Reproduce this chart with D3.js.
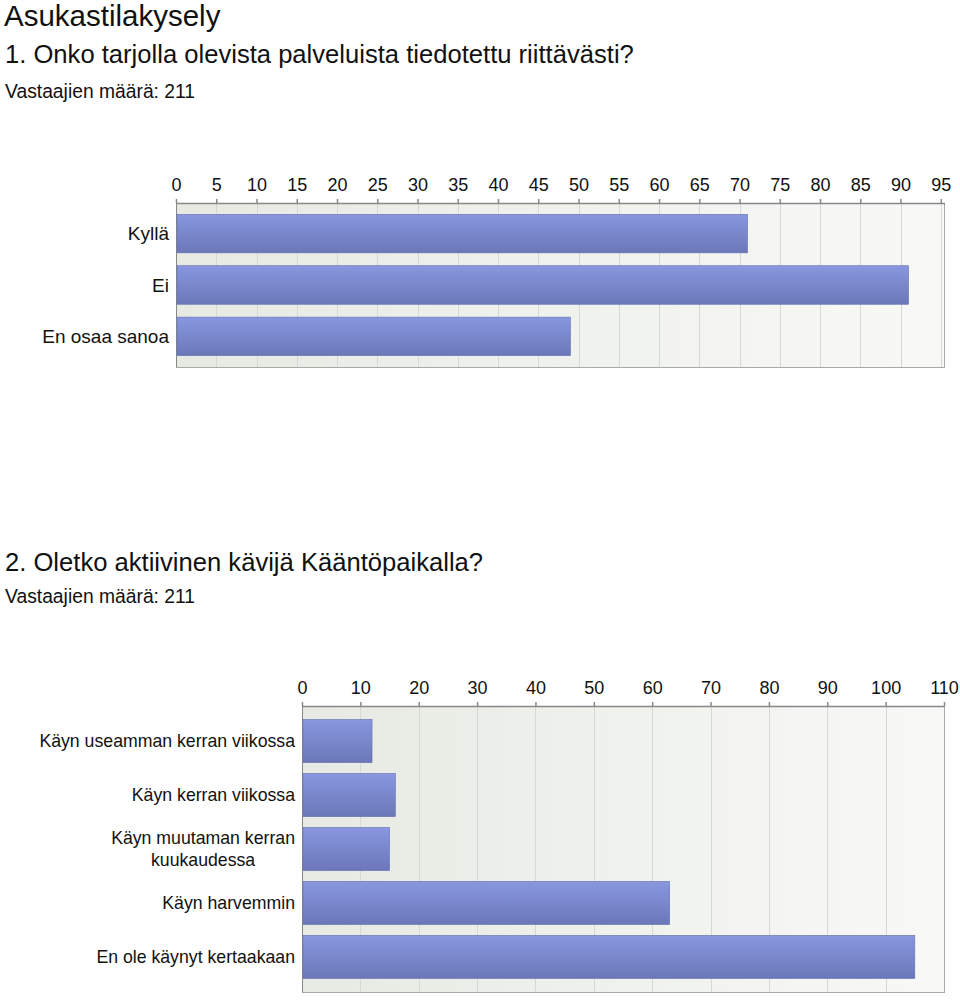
<!DOCTYPE html>
<html><head><meta charset="utf-8">
<script src="https://cdn.jsdelivr.net/npm/d3@7"></script>
<style>
body{margin:0;background:#fff;font-family:"Liberation Sans",Arial,sans-serif;}
svg text{font-family:"Liberation Sans",Arial,sans-serif;fill:#111;}
</style></head>
<body><svg id="c" width="960" height="1001"></svg>
<script>
const title = "Asukastilakysely";
const q1Title = "1. Onko tarjolla olevista palveluista tiedotettu riittävästi?";
const q1Count = "Vastaajien määrä: 211";
const q1Categories = ["Kyllä", "Ei", "En osaa sanoa"];
const q1Values = [71, 91, 49];
const q1Ticks = [0,5,10,15,20,25,30,35,40,45,50,55,60,65,70,75,80,85,90,95];

const q2Title = "2. Oletko aktiivinen kävijä Kääntöpaikalla?";
const q2Count = "Vastaajien määrä: 211";
const q2Categories = ["Käyn useamman kerran viikossa", "Käyn kerran viikossa", "Käyn muutaman kerran|kuukaudessa", "Käyn harvemmin", "En ole käynyt kertaakaan"];
const q2Values = [12, 16, 15, 63, 105];
const q2Ticks = [0,10,20,30,40,50,60,70,80,90,100,110];

const svg = d3.select("#c");
const defs = svg.append("defs");
const bg = defs.append("linearGradient").attr("id","bg").attr("x1",0).attr("x2",1).attr("y1",0).attr("y2",0);
bg.append("stop").attr("offset",0).attr("stop-color","#e7eae3");
bg.append("stop").attr("offset",1).attr("stop-color","#f8f9f7");
const bar = defs.append("linearGradient").attr("id","bar").attr("x1",0).attr("x2",0).attr("y1",0).attr("y2",1);
bar.append("stop").attr("offset",0).attr("stop-color","#8897df");
bar.append("stop").attr("offset",1).attr("stop-color","#6b77b8");

svg.append("text").attr("x",4).attr("y",26).attr("font-size",29.5).text(title);
svg.append("text").attr("x",5).attr("y",63).attr("font-size",25.6).text(q1Title);
svg.append("text").attr("x",5).attr("y",98).attr("font-size",19.3).text(q1Count);
svg.append("text").attr("x",5).attr("y",571).attr("font-size",25.6).text(q2Title);
svg.append("text").attr("x",5).attr("y",603).attr("font-size",19.3).text(q2Count);

function chart(cfg){
  const x = d3.scaleLinear().domain([0,cfg.max]).range([cfg.x0,cfg.x1]);
  const y = d3.scaleBand().domain(cfg.cats).range([cfg.y0,cfg.y1]).paddingInner(cfg.pi).paddingOuter(cfg.po);
  const g = svg.append("g");
  g.append("rect").attr("x",cfg.x0).attr("y",cfg.y0).attr("width",cfg.x1-cfg.x0).attr("height",cfg.y1-cfg.y0).attr("fill","url(#bg)");
  g.selectAll("line.grid").data(cfg.ticks.filter(t=>t>0)).join("line")
    .attr("x1",d=>Math.round(x(d))+0.5).attr("x2",d=>Math.round(x(d))+0.5)
    .attr("y1",cfg.y0).attr("y2",cfg.y1).attr("stroke","#d6d8d4").attr("stroke-width",1);
  g.append("line").attr("x1",cfg.x1+0.5).attr("x2",cfg.x1+0.5).attr("y1",cfg.y0).attr("y2",cfg.y1).attr("stroke","#a8aaa8");
  g.append("line").attr("x1",cfg.x0).attr("x2",cfg.x1+1).attr("y1",cfg.y1+0.5).attr("y2",cfg.y1+0.5).attr("stroke","#a8aaa8");
  g.append("line").attr("x1",cfg.x0+0.5).attr("x2",cfg.x0+0.5).attr("y1",cfg.y0).attr("y2",cfg.y1).attr("stroke","#888");
  g.selectAll("rect.bar").data(cfg.vals).join("rect")
    .attr("x",cfg.x0+1).attr("y",(d,i)=>y(cfg.cats[i]))
    .attr("width",d=>x(d)-cfg.x0-1).attr("height",y.bandwidth())
    .attr("fill","url(#bar)").attr("stroke","#6670b0").attr("stroke-width",0.6);
  const ax = d3.axisTop(x).tickValues(cfg.ticks).tickSize(4).tickPadding(8).tickFormat(d3.format("d"));
  const a = svg.append("g").attr("transform",`translate(0,${cfg.y0})`).call(ax);
  a.select(".domain").attr("stroke","#888").attr("stroke-width",1.5).attr("d",`M${cfg.x0},0.5H${cfg.x1+1}`);
  a.selectAll(".tick line").attr("stroke","#888").attr("stroke-width",1.5);
  a.selectAll(".tick text").attr("font-size",18).attr("fill","#333").style("font-family","Liberation Sans, Arial");
  cfg.cats.forEach((c,i)=>{
    const lines = c.split("|");
    const cy = y(c)+y.bandwidth()/2;
    const t = svg.append("text").attr("font-size",cfg.lfs).attr("fill","#222");
    if(lines.length===1){
      t.attr("x",cfg.lx).attr("y",cy).attr("dy","0.36em").attr("text-anchor","end").text(c);
    } else {
      const tmp = svg.append("text").attr("font-size",cfg.lfs).text(lines[0]);
      const w = tmp.node().getComputedTextLength(); tmp.remove();
      const cx = cfg.lx - w/2;
      t.attr("text-anchor","middle");
      lines.forEach((ln,j)=>{
        t.append("tspan").attr("x",cx).attr("y",cy+(j-(lines.length-1)/2)*22).attr("dy","0.36em").text(ln);
      });
    }
  });
}

chart({max:95.4, x0:176, x1:944, y0:203, y1:367, cats:q1Categories, vals:q1Values, ticks:q1Ticks, pi:0.25, po:0.22, lx:169, lfs:19});
chart({max:110, x0:302, x1:944, y0:706, y1:992, cats:q2Categories, vals:q2Values, ticks:q2Ticks, pi:0.2, po:0.25, lx:295, lfs:17.7});
</script></body></html>
